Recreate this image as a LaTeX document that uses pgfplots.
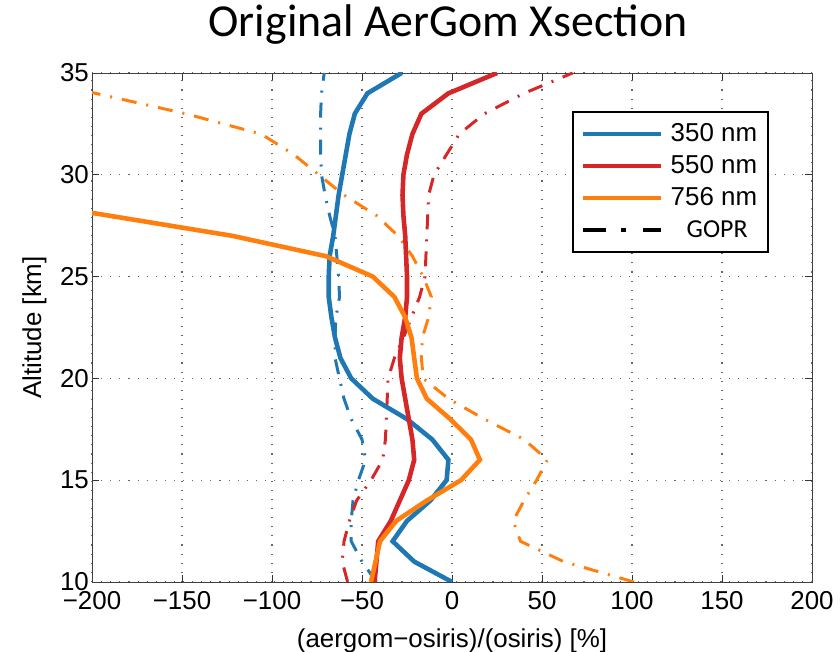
\documentclass[border=0pt]{standalone}
\usepackage{pgfplots}
\pgfplotsset{compat=1.18}
\usepackage{fontspec}
\setmainfont{Liberation Sans}
\newfontfamily\calib{Carlito}
\definecolor{cblue}{RGB}{31,119,180}
\definecolor{cred}{RGB}{214,39,40}
\definecolor{corange}{RGB}{255,127,14}
\begin{document}
\begin{tikzpicture}
\begin{axis}[
  scale only axis, width=720bp, height=509bp,
  xmin=-200, xmax=200, ymin=10, ymax=35,
  xtick={-200,-150,...,200},
  xticklabels={−200,−150,−100,−50,0,50,100,150,200},
  ytick={10,15,...,35},
  tick align=inside, major tick length=7bp,
  tick style={black!80, line width=0.9pt},
  axis line style={line width=0.9pt, black!75},
  grid=major,
  major grid style={black!60, line width=1.1pt, dash pattern=on 1.1bp off 8bp},
  ticklabel style={font=\fontsize{26}{30}\selectfont},
  xticklabel style={inner sep=2bp, yshift=-7bp},
  yticklabel style={inner sep=3bp},
  /pgf/number format/assume math mode=true,
  xlabel={(aergom−osiris)/(osiris) [\%]},
  ylabel={Altitude [km]},
  label style={font=\fontsize{26}{30}\selectfont},
  xlabel style={yshift=-14bp},
  ylabel style={yshift=7bp},
  title={\calib\fontsize{46}{52}\selectfont Original AerGom Xsection},
  every axis title shift=0pt,
  title style={yshift=25bp, xshift=-4bp},
  legend style={at={(0.667,0.925)}, anchor=north west, draw=black, line width=1.8pt,
    font=\fontsize{26}{30}\selectfont, row sep=4bp, column sep=4bp,
    inner xsep=8bp, inner ysep=8bp,
    nodes={inner xsep=3bp, inner ysep=1bp, text height=20bp, text depth=6bp},
    cells={anchor=west}},
  legend cell align=left,
  legend image code/.code={\draw[#1] (0bp,0bp) -- (78bp,0bp);},
  gopr/.style={line width=3pt, dash pattern=on 15bp off 10bp on 2bp off 10bp, forget plot},
]
% dash-dot GOPR curves
\addplot[cblue, gopr] coordinates {
(-42,10)(-50,11)(-56,12)(-56,13)(-55,14)(-52,15)(-48,16)(-50,17)(-56,18)(-60,19)(-62.5,20)(-65,21)(-65,22)(-64.5,23)(-62.5,24)(-63,25)(-64,26)(-65,27)(-68,28)(-70.5,29)(-72.5,30)(-73,31)(-73,32)(-73,33)(-72.5,34)(-71,35)};
\addplot[cred, gopr] coordinates {
(-58,10)(-61,11)(-60,12)(-57,13)(-53,14)(-45,15)(-38.5,16)(-37,17)(-36.5,18)(-36,19)(-35.5,20)(-32,21)(-27,22)(-22.5,23)(-18,24)(-15,25)(-14.5,26)(-14,27)(-13.5,28)(-13,29)(-10,30)(-3,31)(4,32)(18,33)(40,34)(67,35)};
\addplot[corange, gopr] coordinates {
(101,10)(62,11)(38,12)(34,13)(40,14)(47,15)(53,16)(40,17)(18,18)(-2,19)(-16,20)(-17,21)(-16.5,22)(-13,23)(-11.5,24)(-16,25)(-22,26)(-30,27)(-42,28)(-60,29)(-74,30)(-88,31)(-106,32)(-148,33)(-198,34)(-250,35)};
% solid curves
\addplot[cblue, line width=4.6pt] coordinates {
(0,10)(-21,11)(-33,12)(-25,13)(-12,14)(-3,15)(-2,16)(-11,17)(-25,18)(-44,19)(-56,20)(-62,21)(-65,22)(-67,23)(-68.5,24)(-68.5,25)(-68,26)(-66,27)(-64.5,28)(-63,29)(-61,30)(-59,31)(-57,32)(-54,33)(-47,34)(-28,35)};
\addlegendentry{350 nm}
\addplot[cred, line width=4.6pt] coordinates {
(-43,10)(-42,11)(-41,12)(-34,13)(-29,14)(-24,15)(-21,16)(-22,17)(-24,18)(-26,19)(-28,20)(-29,21)(-28,22)(-26,23)(-25,24)(-25,25)(-25.5,26)(-26,27)(-27,28)(-27.5,29)(-27,30)(-25,31)(-22,32)(-17,33)(-2,34)(25,35)};
\addlegendentry{550 nm}
\addplot[corange, line width=4.6pt] coordinates {
(-45,10)(-42.5,11)(-40,12)(-31,13)(-14,14)(5,15)(15.5,16)(10.5,17)(-1,18)(-14,19)(-19.5,20)(-21,21)(-22.5,22)(-26,23)(-32,24)(-44,25)(-70,26)(-122,27)(-198,28.1)(-260,28.5)};
\addlegendentry{756 nm}
\addlegendimage{black, line width=4pt, dash pattern=on 23bp off 15bp on 5bp off 17bp on 20bp off 10bp}
\addlegendentry{\hspace{16bp}\calib\fontsize{26}{30}\selectfont GOPR}
\coordinate (bl) at (axis description cs:-0.1278,-0.1375);
\coordinate (tr) at (axis description cs:1.0389,1.1434);
\end{axis}
\pgfresetboundingbox
\path[use as bounding box] (bl) rectangle (tr);
\end{tikzpicture}
\end{document}
